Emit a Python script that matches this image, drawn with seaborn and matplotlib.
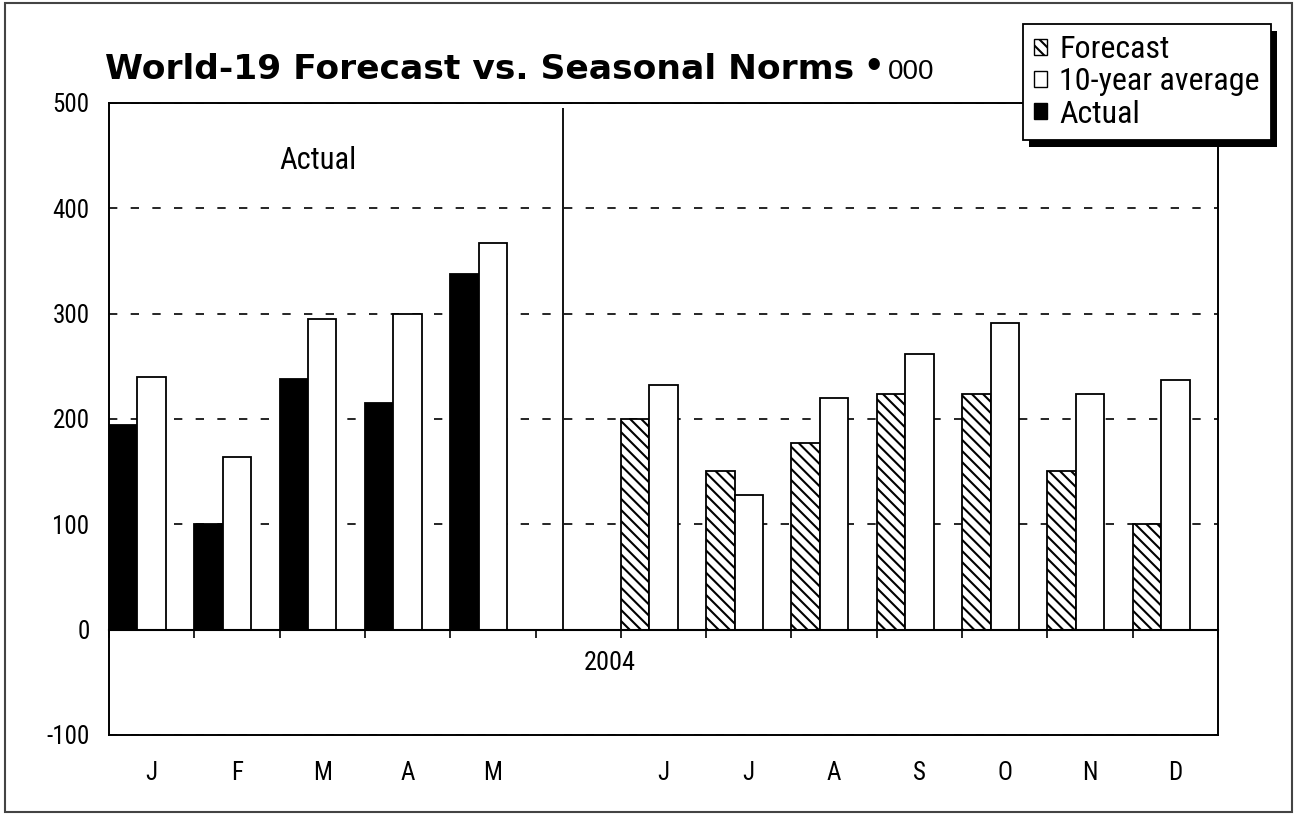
import matplotlib
matplotlib.use("Agg")
import matplotlib.pyplot as plt
from matplotlib.patches import Patch, Rectangle
import numpy as np
import pandas as pd
import seaborn as sns

# Data (thousands)
slot_labels = ["J", "F", "M", "A", "M", "", "J", "J", "A", "S", "O", "N", "D"]
actual = [194, 100, 238, 215, 338]                      # Jan - May
forecast = [200, 151, 177, 224, 224, 151, 100]          # Jun - Dec
ten_year_avg = [240, 164, 295, 300, 367, None, 232, 128, 220, 262, 291, 224, 237]

y_ticks = [-100, 0, 100, 200, 300, 400, 500]

sns.set_theme(style="white")
NARROW = ["Roboto Condensed", "DejaVu Sans"]
plt.rcParams["font.family"] = NARROW
plt.rcParams["text.color"] = "black"
plt.rcParams["hatch.linewidth"] = 1.5

# Build long table for seaborn
slot_keys = [f"s{i:02d}" for i in range(len(slot_labels))]
rows = []
for i, v in enumerate(actual):
    rows.append({"slot": slot_keys[i], "series": "lead", "value": v})
for i, v in enumerate(forecast):
    rows.append({"slot": slot_keys[i + 6], "series": "lead", "value": v})
for i, v in enumerate(ten_year_avg):
    if v is not None:
        rows.append({"slot": slot_keys[i], "series": "avg", "value": v})
df = pd.DataFrame(rows)

W, H = 1294, 814
fig = plt.figure(figsize=(W / 100, H / 100), dpi=100)
ax = fig.add_axes([109 / W, 1 - 735 / H, (1218 - 109) / W, (735 - 103) / H])

sns.barplot(data=df, x="slot", y="value", hue="series", order=slot_keys,
            hue_order=["lead", "avg", "pad"],
            palette={"lead": "black", "avg": "white", "pad": "white"},
            width=1, gap=0, dodge=True, saturation=1,
            edgecolor="black", linewidth=1.3, legend=False, ax=ax)

# forecast bars get the hatch instead of solid fill
for bar in ax.containers[0]:
    slot = int(round(bar.get_x() + bar.get_width() / 2 + 1 / 3))
    if slot > 5:
        bar.set_facecolor("white")
        bar.set_hatch("\\\\\\")

ax.set_xlim(-0.5, len(slot_labels) - 0.5)
ax.set_ylim(y_ticks[0], y_ticks[-1])
ax.set_yticks(y_ticks)
ax.set_yticklabels([str(t) for t in y_ticks], fontsize=18)
ax.set_xticks(range(len(slot_labels)))
ax.set_xticklabels(slot_labels, fontsize=18)
ax.set_xlabel("")
ax.set_ylabel("")
ax.tick_params(axis="y", direction="out", length=6, width=1.2, pad=8, colors="black")
ax.tick_params(axis="x", length=0, pad=19, colors="black")
ax.yaxis.grid(True, color="black", linestyle=(0, (5, 8)), linewidth=1.2)
ax.set_axisbelow(True)
for s in ax.spines.values():
    s.set_visible(True)
    s.set_color("black")
    s.set_linewidth(1.4)

# zero line with category ticks
zero_pos = (0 - y_ticks[0]) / (y_ticks[-1] - y_ticks[0])
sec = ax.secondary_xaxis(zero_pos)
sec.set_xticks(np.arange(-0.5, len(slot_labels), 1))
sec.set_xticklabels([])
sec.tick_params(direction="out", length=6, width=1.2, colors="black")
sec.spines["bottom"].set_linewidth(1.5)
sec.spines["bottom"].set_color("black")
sec.set_zorder(3)

# divider between actual and forecast
DIVIDER_X = 4.82
ax.vlines(DIVIDER_X, 0, 495, color="black", linewidth=1.3)

ax.text(1.95, 445, "Actual", fontsize=22, ha="center", va="center")
ax.text(5.37, -32, "2004", fontsize=19, ha="center", va="center")

# title
t = fig.text(105 / W, 1 - 79 / H, "World-19 Forecast vs. Seasonal Norms",
             fontsize=24.8, fontweight="bold", family="DejaVu Sans", va="baseline")
fig.canvas.draw()
bb = t.get_window_extent()
fig.text((bb.x1 + 19) / W, 1 - 67 / H, "\u2022", fontsize=30, va="center", ha="center",
         family=["Liberation Sans", "DejaVu Sans"])
fig.text((bb.x1 + 34) / W, 1 - 79 / H, "000", fontsize=20, va="baseline",
         family=["Liberation Sans", "DejaVu Sans"])

# legend
handles = [Patch(facecolor="white", edgecolor="black", hatch="\\\\\\", linewidth=1),
           Patch(facecolor="white", edgecolor="black", linewidth=1),
           Patch(facecolor="black", edgecolor="black", linewidth=1)]
leg = fig.legend(handles, ["Forecast", "10-year average", "Actual"],
                 loc="upper right", bbox_to_anchor=(1271 / W, 1 - 24 / H),
                 fontsize=23, frameon=True, fancybox=False, shadow=False, framealpha=1,
                 facecolor="white", edgecolor="black",
                 handlelength=0.4, handleheight=0.4, handletextpad=0.4,
                 labelspacing=0.1, borderpad=0.35, borderaxespad=0)
leg.get_frame().set_linewidth(1.3)
leg.set_zorder(10)
fig.canvas.draw()
lb = leg.get_window_extent()
fig.patches.append(Rectangle((lb.x0 + 6, lb.y0 - 7), lb.width, lb.height,
                             transform=None, facecolor="black", edgecolor="none",
                             zorder=9, figure=fig))

# outer border
fig.patches.append(Rectangle((5 / W, 2 / H), (1292 - 5) / W, (811 - 2) / H,
                             transform=fig.transFigure, fill=False,
                             edgecolor="#444444", linewidth=1.5, zorder=0, figure=fig))

fig.savefig("out.png", dpi=100)
